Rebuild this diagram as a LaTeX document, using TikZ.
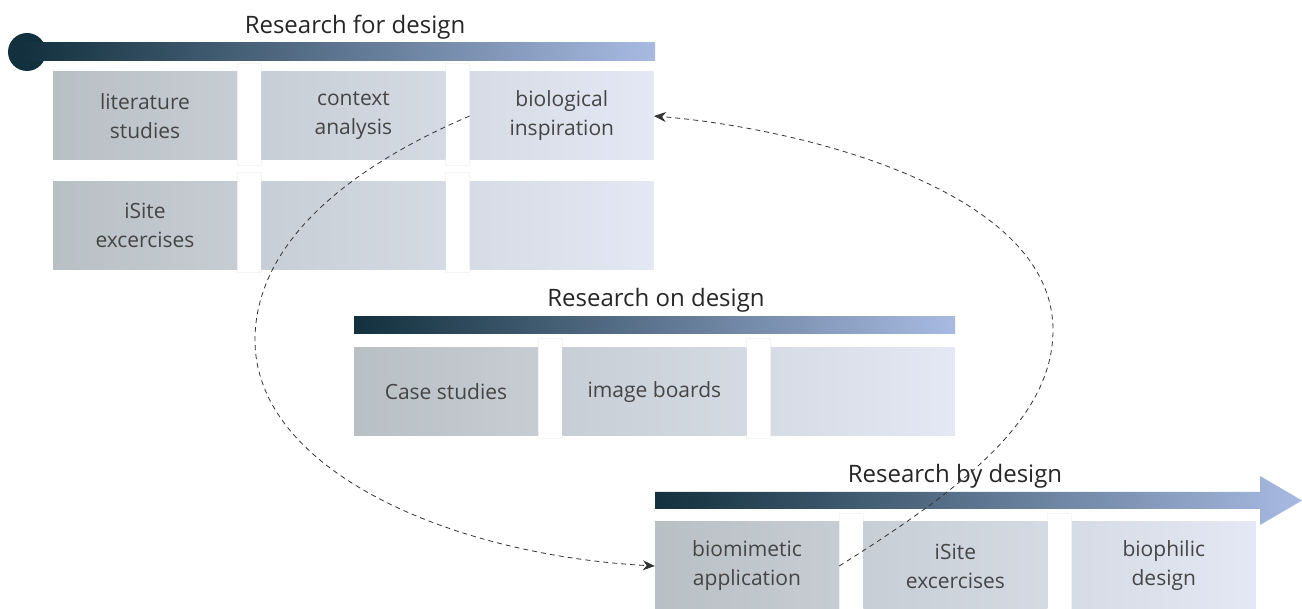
\documentclass[tikz,border=0pt]{standalone}
\usepackage{fontspec}
\setmainfont{Open Sans}
\usetikzlibrary{positioning}
\usetikzlibrary{arrows.meta}

\definecolor{barstart}{HTML}{12303D}
\definecolor{barend}{HTML}{A8BAE2}
\definecolor{cellstart}{HTML}{B9C0C4}
\definecolor{cellend}{HTML}{E3E8F4}
\definecolor{inktext}{HTML}{454545}

\tikzset{
  cell/.style={minimum width=184pt, minimum height=88pt, inner sep=0pt, align=center,
    font=\fontsize{21}{29}\selectfont, text=inktext},
  gapstrip/.style={fill=white, draw=black!4, line width=0.4pt},
  bandtitle/.style={font=\fontsize{24}{30}\selectfont, text=black!85},
  feedback/.style={draw=black!80, line width=0.8pt, dash pattern=on 5pt off 4pt,
    -{Stealth[length=12pt,width=10pt]}}
}

\begin{document}
\begin{tikzpicture}[x=1pt,y=-1pt]
  \useasboundingbox (0,0) rectangle (1302,609);

  % white strips between the cells
  \foreach \x in {237,445} {
    \filldraw[gapstrip] (\x,63) rectangle ++(24,102);
    \filldraw[gapstrip] (\x,172) rectangle ++(24,100);
  }
  \foreach \x in {538,746} \filldraw[gapstrip] (\x,338) rectangle ++(24,100);
  \foreach \x in {839,1047} \filldraw[gapstrip] (\x,513) rectangle ++(24,100);

  % Research for design
  \fill[barstart] (27,52) circle (19pt);
  \shade[left color=barstart, right color=barend] (20,43) rectangle (655,61);
  \node[bandtitle] (rfd) at (355,27) {Research for design};

  \node[cell, left color=cellstart, right color=cellend!31!cellstart] (lit) at (145,116) {literature\\studies};
  \node[cell, left color=cellend!35!cellstart, right color=cellend!65!cellstart, right=24pt of lit] (ctx) {context\\analysis};
  \node[cell, left color=cellend!69!cellstart, right color=cellend, right=24pt of ctx] (bio) {biological\\inspiration};

  \node[cell, left color=cellstart, right color=cellend!31!cellstart, below=21pt of lit] (isa) {iSite\\excercises};
  \node[cell, left color=cellend!35!cellstart, right color=cellend!65!cellstart, right=24pt of isa] (emptya) {};
  \node[cell, left color=cellend!69!cellstart, right color=cellend, right=24pt of emptya] (emptyb) {};

  % Research on design
  \shade[left color=barstart, right color=barend] (354,317) rectangle (955,334);
  \node[bandtitle] (rod) at (656,300) {Research on design};

  \node[cell, left color=cellstart, right color=cellend!31!cellstart] (case) at (446,392) {Case studies};
  \node[cell, left color=cellend!35!cellstart, right color=cellend!65!cellstart, right=24pt of case] (img) {image boards};
  \node[cell, left color=cellend!69!cellstart, right color=cellend, right=24pt of img] (emptyc) {};

  % Research by design
  \shade[left color=barstart, right color=barend] (655,492) -- (1260,492) -- (1260,476) -- (1302,500.5)
    -- (1260,525) -- (1260,509) -- (655,509) -- cycle;
  \node[bandtitle] (rbd) at (955,476) {Research by design};

  \node[cell, left color=cellstart, right color=cellend!31!cellstart] (app) at (747,566) {biomimetic\\application};
  \node[cell, left color=cellend!35!cellstart, right color=cellend!65!cellstart, right=24pt of app] (isb) {iSite\\excercises};
  \node[cell, left color=cellend!69!cellstart, right color=cellend, right=24pt of isb] (phil) {biophilic\\design};

  % the loop between inspiration and application
  \draw[feedback] (app.east) .. controls (960,490) and (1053,420) .. (1053,330)
    .. controls (1053,190) and (800,128) .. (bio.east);
  \draw[feedback] (bio.west) .. controls (320,180) and (255,260) .. (255,340)
    .. controls (255,470) and (450,555) .. (app.west);
\end{tikzpicture}
\end{document}
